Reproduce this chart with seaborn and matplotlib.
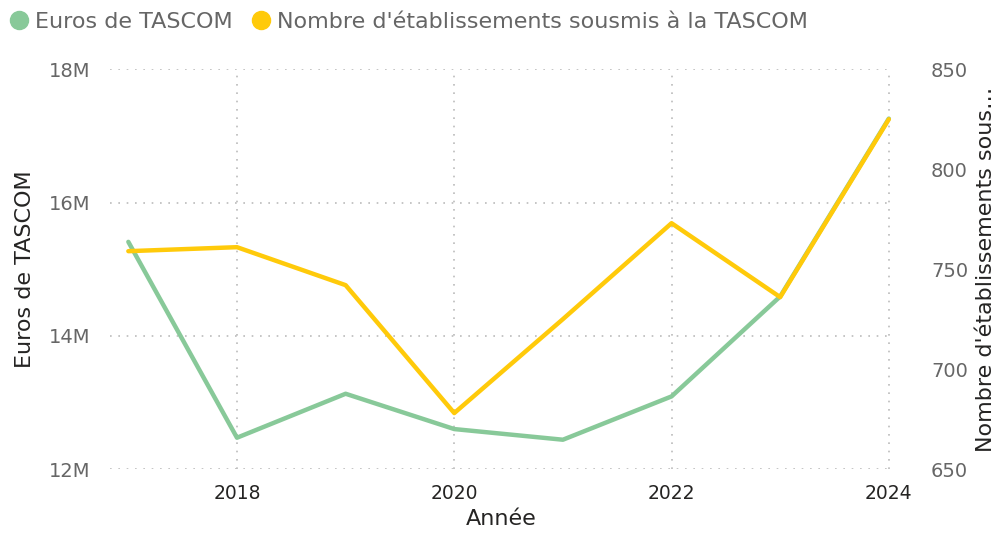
import seaborn as sns
import matplotlib.pyplot as plt
import pandas as pd
from matplotlib.lines import Line2D

# données
annees = [2017, 2018, 2019, 2020, 2021, 2022, 2023, 2024]
euros_tascom = [15.41, 12.47, 13.13, 12.60, 12.44, 13.09, 14.59, 17.26]  # en millions
nb_etablissements = [759, 761, 742, 678, 725, 773, 736, 825]

x_ticks = [2018, 2020, 2022, 2024]
y1_ticks = [12, 14, 16, 18]
y1_labels = ["12M", "14M", "16M", "18M"]
y2_ticks = [650, 700, 750, 800, 850]

VERT = "#88C999"
JAUNE = "#FFCA0A"
GRIS = "#666666"
NOIR = "#252423"

df = pd.DataFrame({"Année": annees,
                   "Euros": euros_tascom,
                   "Nombre": nb_etablissements})

sns.set_style("white")
plt.rcParams['font.family'] = ['DejaVu Sans']

fig = plt.figure(figsize=(10.08, 5.33), dpi=100)
ax = fig.add_axes([0.109, 0.120, 0.776, 0.750])
ax2 = ax.twinx()

sns.lineplot(data=df, x="Année", y="Euros", ax=ax, color=VERT, linewidth=3.2)
sns.lineplot(data=df, x="Année", y="Nombre", ax=ax2, color=JAUNE, linewidth=3.2)

ax.set_xlim(2016.83, 2024.03)
ax.set_ylim(12, 18)
ax2.set_ylim(650, 850)

ax.set_xticks(x_ticks)
ax.set_yticks(y1_ticks)
ax.set_yticklabels(y1_labels)
ax2.set_yticks(y2_ticks)

ax.grid(True, linestyle=(0, (1, 4)), color="#BBBBBB", linewidth=1.2)
ax2.grid(False)
for a in (ax, ax2):
    for s in a.spines.values():
        s.set_visible(False)

ax.tick_params(axis="x", length=0, pad=11, labelsize=13.5, labelcolor=NOIR)
ax.tick_params(axis="y", length=0, pad=14, labelsize=14, labelcolor=GRIS)
ax2.tick_params(axis="y", length=0, pad=28, labelsize=14, labelcolor=GRIS)

ax.set_xlabel("Année", fontsize=16, color=NOIR, labelpad=4)
ax.set_ylabel("Euros de TASCOM", fontsize=16, color=NOIR, labelpad=10)
ax2.set_ylabel("Nombre d'établissements sous…", fontsize=16, color=NOIR, labelpad=6)

handles = [Line2D([], [], marker="o", linestyle="", color=VERT, markersize=13),
           Line2D([], [], marker="o", linestyle="", color=JAUNE, markersize=13)]
fig.legend(handles, ["Euros de TASCOM", "Nombre d'établissements sousmis à la TASCOM"],
           loc="upper left", bbox_to_anchor=(-0.012, 1.015), ncol=2, frameon=False,
           fontsize=16, handletextpad=0.2, columnspacing=0.8, labelcolor=GRIS,
           handlelength=1.0)

fig.savefig("out.png", dpi=100)
